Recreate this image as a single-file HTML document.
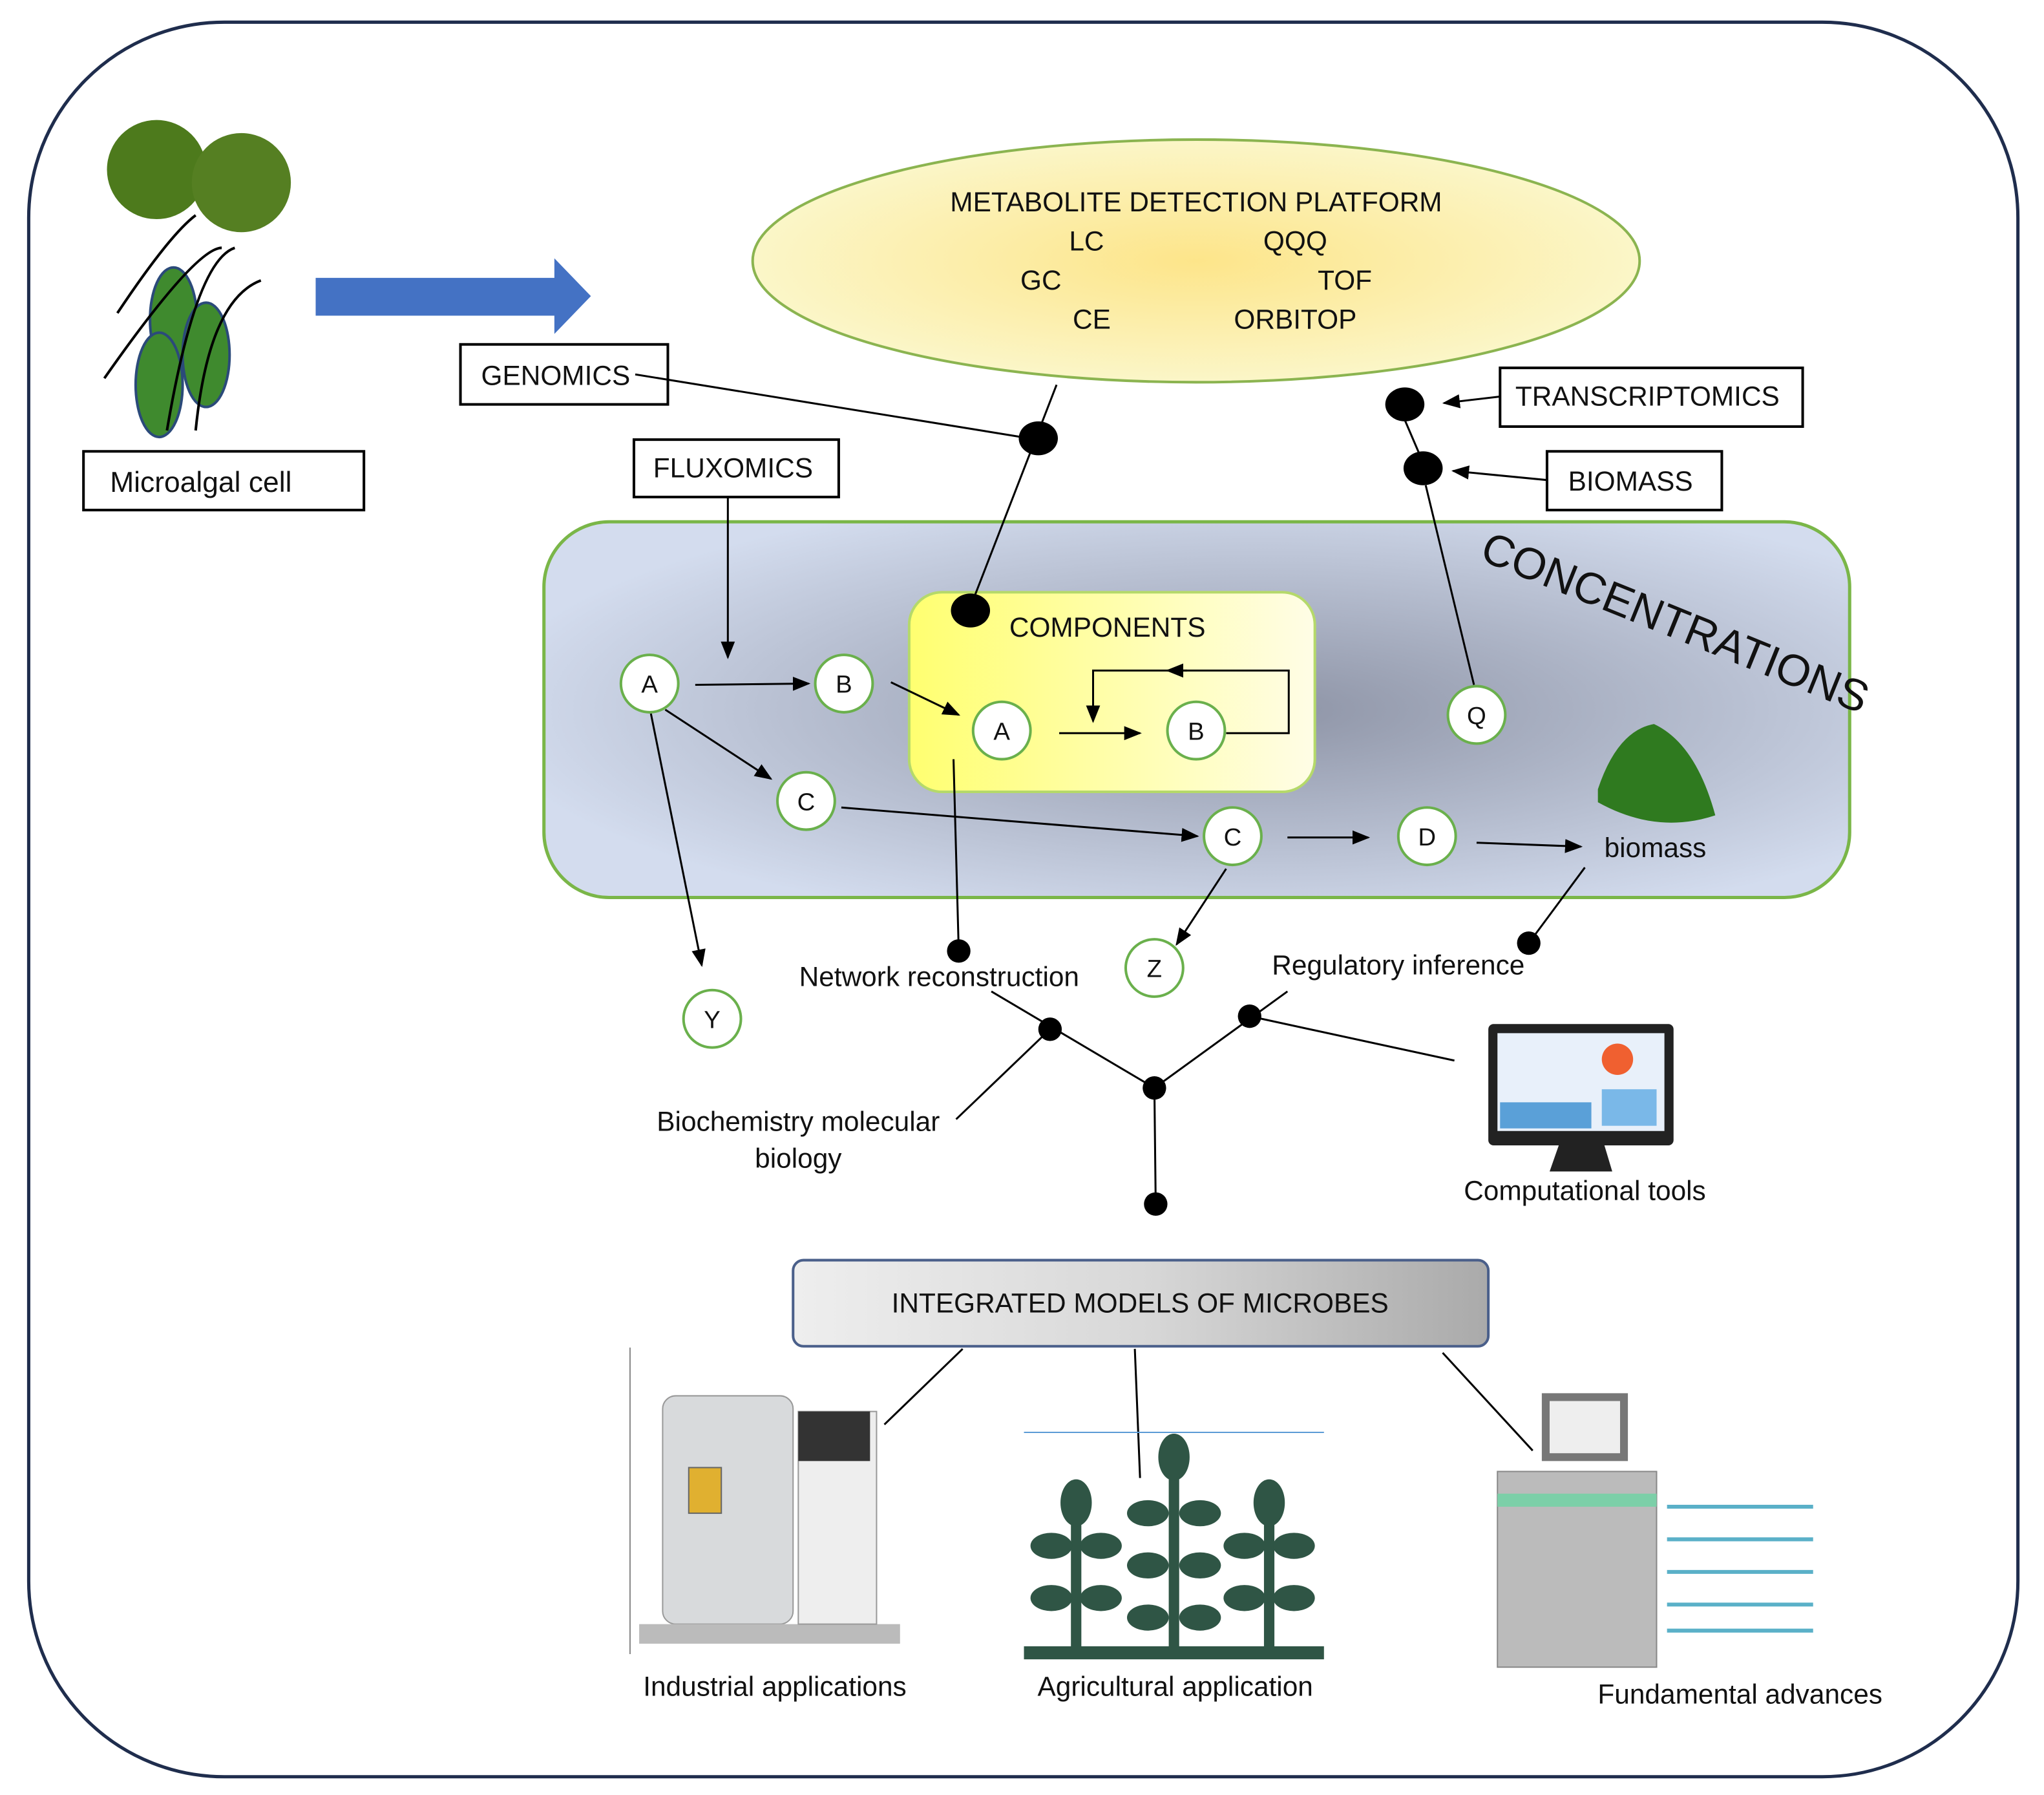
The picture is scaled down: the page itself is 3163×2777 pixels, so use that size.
<!DOCTYPE html>
<html><head><meta charset="utf-8"><style>
html,body{margin:0;padding:0;background:#fff;}
svg{display:block;}
text{font-family:"Liberation Sans",sans-serif;fill:#111;}
</style></head><body>
<svg width="3163" height="2777" viewBox="0 0 1567 1376" preserveAspectRatio="none" xmlns="http://www.w3.org/2000/svg">
<defs>
<radialGradient id="ell" cx="50%" cy="50%" r="50%"><stop offset="0" stop-color="#fde58a"/><stop offset="1" stop-color="#fbf6c8"/></radialGradient>
<radialGradient id="conc" cx="55%" cy="50%" r="60%"><stop offset="0" stop-color="#8e94a6"/><stop offset="1" stop-color="#d3dcee"/></radialGradient>
<linearGradient id="comp" x1="0" x2="1"><stop offset="0" stop-color="#ffff70"/><stop offset="1" stop-color="#fffde6"/></linearGradient>
<linearGradient id="imm" x1="0" x2="1"><stop offset="0" stop-color="#eeeeee"/><stop offset="0.5" stop-color="#d8d8d8"/><stop offset="1" stop-color="#aaaaaa"/></linearGradient>
<marker id="ar" viewBox="0 0 10 10" refX="9" refY="5" markerWidth="9" markerHeight="9" orient="auto"><path d="M0,1 L10,5 L0,9 z" fill="#000"/></marker>
</defs>
<rect x="22" y="17" width="1525" height="1345" rx="150" fill="#fff" stroke="#1f2d4d" stroke-width="2.5"/>

<!-- algae -->
<circle cx="120" cy="130" r="38" fill="#4d7a1c"/><circle cx="185" cy="140" r="38" fill="#557f22"/>
<ellipse cx="133" cy="245" rx="18" ry="40" fill="#3f8a2e" stroke="#2b4a7a" stroke-width="2"/>
<ellipse cx="122" cy="295" rx="18" ry="40" fill="#3f8a2e" stroke="#2b4a7a" stroke-width="2"/>
<ellipse cx="158" cy="272" rx="18" ry="40" fill="#3f8a2e" stroke="#2b4a7a" stroke-width="2"/>
<path d="M90,240 Q130,180 150,165 M80,290 Q150,190 170,190 M128,330 Q150,200 180,190 M150,330 Q160,230 200,215" stroke="#000" stroke-width="2" fill="none"/>
<rect x="64" y="346" width="215" height="45" fill="#fff" stroke="#000" stroke-width="2"/>
<text x="154" y="377" font-size="22" text-anchor="middle">Microalgal cell</text>

<path d="M242,213 L425,213 L425,198 L453,227 L425,256 L425,242 L242,242 z" fill="#4472c4"/>

<ellipse cx="917" cy="200" rx="340" ry="93" fill="url(#ell)" stroke="#8bb450" stroke-width="2"/>
<g font-size="21" text-anchor="middle">
<text x="917" y="162">METABOLITE DETECTION PLATFORM</text>
<text x="833" y="192">LC</text><text x="993" y="192">QQQ</text>
<text x="798" y="222">GC</text><text x="1031" y="222">TOF</text>
<text x="837" y="252">CE</text><text x="993" y="252">ORBITOP</text>
</g>

<g font-size="21" text-anchor="middle">
<rect x="353" y="264" width="159" height="46" fill="#fff" stroke="#000" stroke-width="2"/><text x="426" y="295">GENOMICS</text>
<rect x="486" y="337" width="157" height="44" fill="#fff" stroke="#000" stroke-width="2"/><text x="562" y="366">FLUXOMICS</text>
<rect x="1150" y="282" width="232" height="45" fill="#fff" stroke="#000" stroke-width="2"/><text x="1263" y="311">TRANSCRIPTOMICS</text>
<rect x="1186" y="346" width="134" height="45" fill="#fff" stroke="#000" stroke-width="2"/><text x="1250" y="376">BIOMASS</text>
</g>

<rect x="417" y="400" width="1001" height="288" rx="50" fill="url(#conc)" stroke="#7ab648" stroke-width="2.5"/>
<text x="1280" y="488" font-size="34" text-anchor="middle" transform="rotate(22 1280 488)">CONCENTRATIONS</text>
<rect x="697" y="454" width="311" height="153" rx="25" fill="url(#comp)" stroke="#b5d96a" stroke-width="2"/>
<text x="849" y="488" font-size="21" text-anchor="middle">COMPONENTS</text>

<!-- connectors -->
<g stroke="#000" stroke-width="1.5" fill="none">
<line x1="487" y1="287" x2="783" y2="335"/>
<line x1="810" y1="295" x2="746" y2="460"/>
<line x1="1077" y1="322" x2="1089" y2="350"/>
<line x1="1093" y1="372" x2="1130" y2="525"/>
<line x1="1150" y1="304" x2="1107" y2="309" marker-end="url(#ar)"/>
<line x1="1186" y1="368" x2="1114" y2="361" marker-end="url(#ar)"/>
<line x1="558" y1="381" x2="558" y2="504" marker-end="url(#ar)"/>
<line x1="533" y1="525" x2="620" y2="524" marker-end="url(#ar)"/>
<line x1="510" y1="544" x2="591" y2="597" marker-end="url(#ar)"/>
<line x1="499" y1="547" x2="538" y2="740" marker-end="url(#ar)"/>
<line x1="683" y1="523" x2="735" y2="548" marker-end="url(#ar)"/>
<line x1="812" y1="562" x2="874" y2="562" marker-end="url(#ar)"/>
<polyline points="940,562 988,562 988,514 838,514 838,553" marker-end="url(#ar)"/>
<line x1="910" y1="514" x2="895" y2="514" marker-end="url(#ar)"/>
<line x1="645" y1="619" x2="918" y2="641" marker-end="url(#ar)"/>
<line x1="987" y1="642" x2="1049" y2="642" marker-end="url(#ar)"/>
<line x1="1132" y1="646" x2="1212" y2="649" marker-end="url(#ar)"/>
<line x1="940" y1="666" x2="902" y2="724" marker-end="url(#ar)"/>
<line x1="731" y1="582" x2="735" y2="729"/>
<line x1="1215" y1="665" x2="1172" y2="723"/>
<line x1="760" y1="760" x2="885" y2="834"/>
<line x1="987" y1="760" x2="885" y2="834"/>
<line x1="733" y1="858" x2="805" y2="789"/>
<line x1="958" y1="779" x2="1115" y2="813"/>
<line x1="885" y1="834" x2="886" y2="923"/>
<line x1="738" y1="1034" x2="678" y2="1092"/>
<line x1="870" y1="1034" x2="874" y2="1133"/>
<line x1="1106" y1="1037" x2="1175" y2="1112"/>
</g>
<g fill="#000">
<ellipse cx="796" cy="336" rx="15" ry="13"/><ellipse cx="744" cy="468" rx="15" ry="13"/>
<ellipse cx="1077" cy="310" rx="15" ry="13"/><ellipse cx="1091" cy="359" rx="15" ry="13"/>
<circle cx="735" cy="729" r="9"/><circle cx="1172" cy="723" r="9"/><circle cx="805" cy="789" r="9"/>
<circle cx="958" cy="779" r="9"/><circle cx="885" cy="834" r="9"/><circle cx="886" cy="923" r="9"/>
</g>

<g fill="#fff" stroke="#6ab04c" stroke-width="2">
<circle cx="498" cy="524" r="22"/><circle cx="647" cy="524" r="22"/><circle cx="768" cy="560" r="22"/>
<circle cx="917" cy="560" r="22"/><circle cx="618" cy="614" r="22"/><circle cx="945" cy="641" r="22"/>
<circle cx="1094" cy="641" r="22"/><circle cx="1132" cy="548" r="22"/><circle cx="885" cy="742" r="22"/>
<circle cx="546" cy="781" r="22"/>
</g>
<g font-size="19" text-anchor="middle">
<text x="498" y="531">A</text><text x="647" y="531">B</text><text x="768" y="567">A</text><text x="917" y="567">B</text>
<text x="618" y="621">C</text><text x="945" y="648">C</text><text x="1094" y="648">D</text><text x="1132" y="555">Q</text>
<text x="885" y="749">Z</text><text x="546" y="788">Y</text>
</g>

<!-- biomass pile -->
<path d="M1225,605 Q1240,560 1268,555 Q1300,570 1315,625 Q1270,640 1225,615 z" fill="#2f7a1f"/>
<g font-size="21" text-anchor="middle">
<text x="1269" y="657">biomass</text>
<text x="720" y="756">Network reconstruction</text>
<text x="1072" y="747">Regulatory inference</text>
<text x="612" y="867">Biochemistry molecular</text>
<text x="612" y="895">biology</text>
<text x="1215" y="920">Computational tools</text>
</g>

<!-- computer -->
<rect x="1141" y="785" width="142" height="93" rx="4" fill="#222"/>
<rect x="1148" y="792" width="128" height="75" fill="#e8f0fa"/>
<circle cx="1240" cy="812" r="12" fill="#f06030"/>
<rect x="1150" y="845" width="70" height="20" fill="#5aa0d8"/>
<rect x="1228" y="835" width="42" height="28" fill="#7ab8e8"/>
<path d="M1195,878 L1230,878 L1236,898 L1188,898 z" fill="#222"/>

<rect x="608" y="966" width="533" height="66" rx="8" fill="url(#imm)" stroke="#4a5f8a" stroke-width="2"/>
<text x="874" y="1006" font-size="21" text-anchor="middle">INTEGRATED MODELS OF MICROBES</text>

<!-- industrial -->
<line x1="483" y1="1033" x2="483" y2="1268" stroke="#888" stroke-width="1"/>
<rect x="508" y="1070" width="100" height="175" rx="10" fill="#d8dadc" stroke="#999"/>
<rect x="528" y="1125" width="25" height="35" fill="#e0b030" stroke="#666"/>
<rect x="490" y="1245" width="200" height="15" fill="#bbb"/>
<rect x="612" y="1082" width="60" height="163" fill="#eee" stroke="#999"/>
<rect x="612" y="1082" width="55" height="38" fill="#333"/>
<!-- agricultural -->
<line x1="785" y1="1098" x2="1015" y2="1098" stroke="#5b9bd5" stroke-width="1"/>
<g fill="#2f5545">
<rect x="785" y="1262" width="230" height="10"/>
<rect x="821" y="1140" width="8" height="125"/><rect x="896" y="1115" width="8" height="150"/><rect x="969" y="1140" width="8" height="125"/>
<ellipse cx="825" cy="1152" rx="12" ry="18"/><ellipse cx="900" cy="1117" rx="12" ry="18"/><ellipse cx="973" cy="1152" rx="12" ry="18"/>
<ellipse cx="806" cy="1185" rx="16" ry="10"/><ellipse cx="844" cy="1185" rx="16" ry="10"/>
<ellipse cx="806" cy="1225" rx="16" ry="10"/><ellipse cx="844" cy="1225" rx="16" ry="10"/>
<ellipse cx="880" cy="1160" rx="16" ry="10"/><ellipse cx="920" cy="1160" rx="16" ry="10"/>
<ellipse cx="880" cy="1200" rx="16" ry="10"/><ellipse cx="920" cy="1200" rx="16" ry="10"/>
<ellipse cx="880" cy="1240" rx="16" ry="10"/><ellipse cx="920" cy="1240" rx="16" ry="10"/>
<ellipse cx="954" cy="1185" rx="16" ry="10"/><ellipse cx="992" cy="1185" rx="16" ry="10"/>
<ellipse cx="954" cy="1225" rx="16" ry="10"/><ellipse cx="992" cy="1225" rx="16" ry="10"/>
</g>
<!-- fundamental -->
<rect x="1182" y="1068" width="66" height="52" fill="#777"/>
<rect x="1188" y="1074" width="54" height="40" fill="#eee"/>
<rect x="1148" y="1128" width="122" height="150" fill="#bbb" stroke="#888"/>
<rect x="1148" y="1145" width="122" height="10" fill="#7ccfa8"/>
<g stroke="#5ab0c8" stroke-width="3"><line x1="1278" y1="1155" x2="1390" y2="1155"/><line x1="1278" y1="1180" x2="1390" y2="1180"/><line x1="1278" y1="1205" x2="1390" y2="1205"/><line x1="1278" y1="1230" x2="1390" y2="1230"/><line x1="1278" y1="1250" x2="1390" y2="1250"/></g>

<g font-size="21" text-anchor="middle">
<text x="594" y="1300">Industrial applications</text>
<text x="901" y="1300">Agricultural application</text>
<text x="1334" y="1306">Fundamental advances</text>
</g>
</svg>
</body></html>
